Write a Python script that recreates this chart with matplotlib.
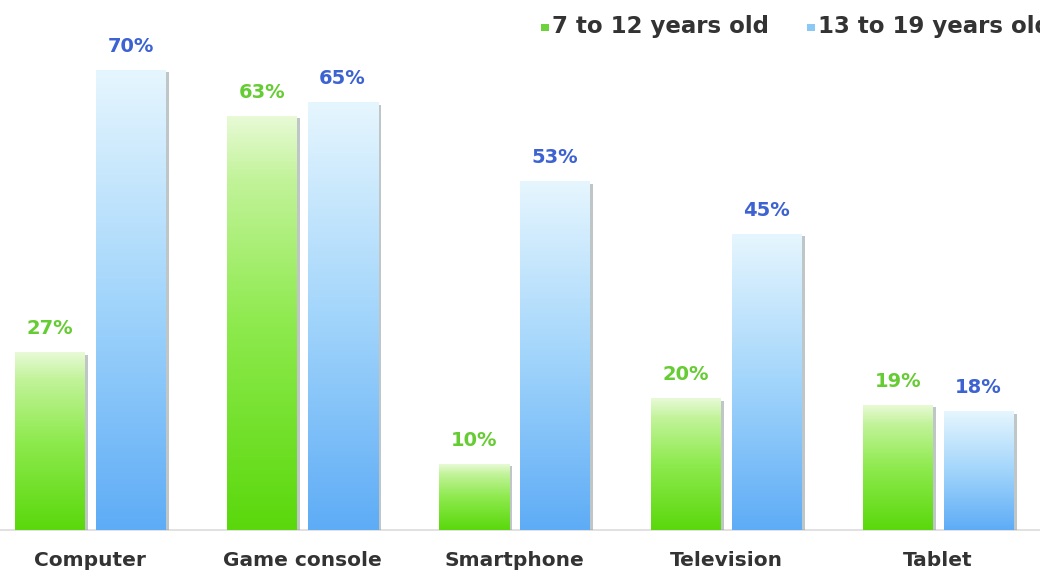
import numpy as np
import matplotlib
matplotlib.use("Agg")
import matplotlib.pyplot as plt
from matplotlib.colors import LinearSegmentedColormap
from matplotlib.patches import Rectangle

categories = ["Computer", "Game console", "Smartphone", "Television", "Tablet"]
series_names = ["7 to 12 years old", "13 to 19 years old"]
kids = [27, 63, 10, 20, 19]
teens = [70, 65, 53, 45, 18]

W, H = 1040, 574
fig = plt.figure(figsize=(W / 100, H / 100), dpi=100)
fig.patch.set_facecolor("white")
FONT = "DejaVu Sans"

base_px = 530
ax = fig.add_axes([0, (H - base_px) / H, 1, base_px / H])
ax.set_xlim(-90 / 212, (W - 90) / 212)
ax.set_ylim(0, base_px / 6.57)
ax.axis("off")

green_cmap = LinearSegmentedColormap.from_list(
    "g", [(0, "#5ad80c"), (0.5, "#8eea4e"), (0.85, "#c2f39a"), (1, "#e8fad6")])
blue_cmap = LinearSegmentedColormap.from_list(
    "b", [(0, "#5eacf6"), (0.5, "#a2d5fb"), (1, "#e6f6fe")])
grad = np.linspace(0, 1, 256).reshape(-1, 1)

bw = 70 / 212
offsets = [-40 / 212, 40.5 / 212]
shadow_dx = 3 / 212
label_colors = ["#66cc33", "#3d62d1"]
cmaps = [green_cmap, blue_cmap]

x = np.arange(len(categories))
for s, vals in enumerate([kids, teens]):
    for i, v in enumerate(vals):
        xc = x[i] + offsets[s]
        x0 = xc - bw / 2
        ax.add_patch(Rectangle((x0 + shadow_dx, 0), bw, v - 0.3, facecolor="#8c979c",
                               edgecolor="none", alpha=0.55, zorder=1))
        ax.imshow(grad, extent=(x0, x0 + bw, 0, v), origin="lower", aspect="auto",
                  cmap=cmaps[s], zorder=2, interpolation="bicubic")
        ax.text(xc, v + 2.2, f"{v}%", ha="center", va="bottom", color=label_colors[s],
                fontsize=14, fontweight="bold", family=FONT, zorder=3)

ax.plot([-1, 6], [0, 0], color="#dcdcdc", lw=1.2, zorder=0, clip_on=False)

for i, c in enumerate(categories):
    fig.text((90 + 212 * i) / W, 1 - 561 / H, c, ha="center", va="center",
             fontsize=14.5, fontweight="bold", color="#333333", family=FONT)

leg_y = 1 - 27 / H
fig.patches.append(Rectangle((541 / W, 1 - 31 / H), 8 / W, 7 / H, transform=fig.transFigure,
                             facecolor="#6cd43a", edgecolor="none"))
fig.text(552 / W, leg_y, series_names[0], ha="left", va="center", fontsize=16.5,
         fontweight="bold", color="#333333", family=FONT)
fig.patches.append(Rectangle((807 / W, 1 - 31 / H), 8 / W, 7 / H, transform=fig.transFigure,
                             facecolor="#8cc8f5", edgecolor="none"))
fig.text(818 / W, leg_y, series_names[1], ha="left", va="center", fontsize=16.5,
         fontweight="bold", color="#333333", family=FONT)

fig.savefig("out.png", dpi=100)
